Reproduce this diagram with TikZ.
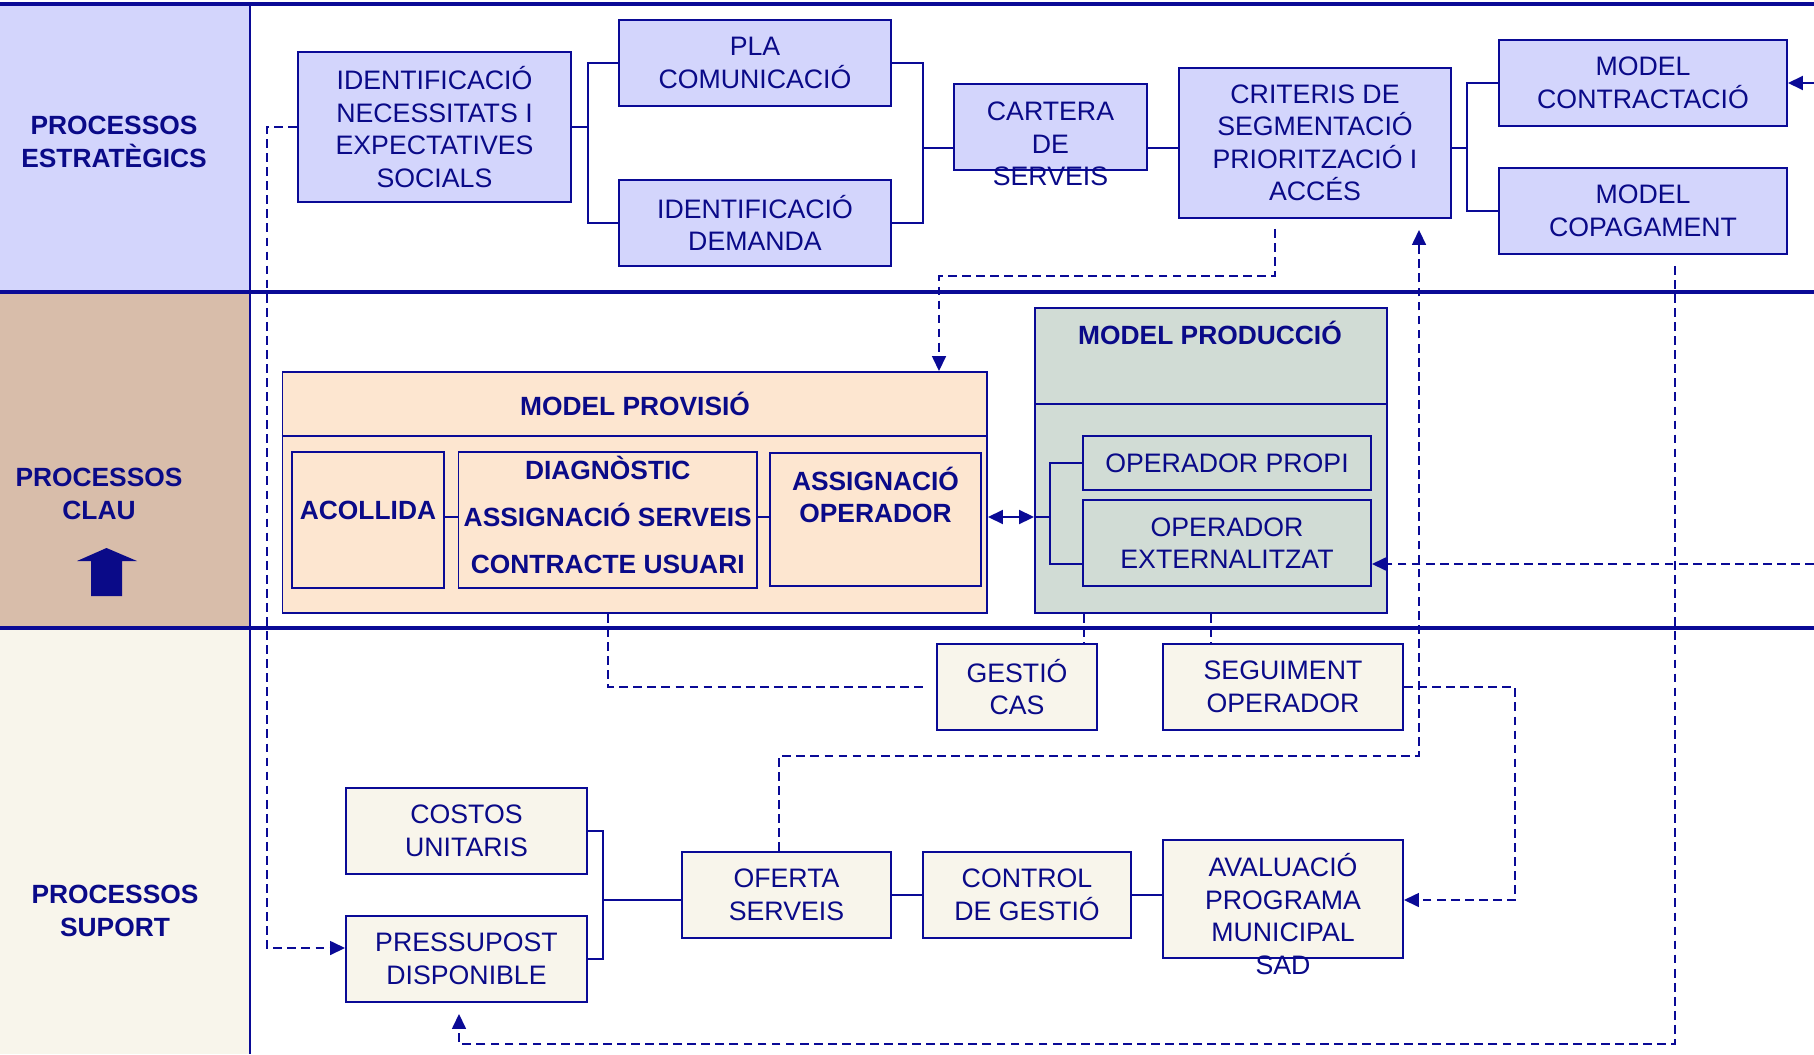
\documentclass[tikz,border=0pt]{standalone}
\usepackage{fontspec}
\setmainfont{Liberation Sans}
\usepackage{xcolor}
\definecolor{navyLine}{HTML}{0A0A96}
\definecolor{navyText}{HTML}{0A0A88}
\definecolor{stratBg}{HTML}{D3D5FC}
\definecolor{clauBg}{HTML}{D8BDAA}
\definecolor{suportBg}{HTML}{F8F5EB}
\definecolor{provBg}{HTML}{FDE6D0}
\definecolor{prodBg}{HTML}{D1DCD5}
\usepackage{tikz}
\usetikzlibrary{positioning,calc,arrows.meta}
\tikzset{%
  procBox/.style={%
    rectangle,
    draw=navyLine,
    line width=1.1pt,
    inner sep=0pt,
    align=center,
    text=navyText,
    font=\fontsize{15.2}{18.5}\selectfont
  },
  stratBox/.style={procBox, fill=stratBg},
  suportBox/.style={procBox, fill=suportBg},
  provBox/.style={procBox, fill=provBg, font=\fontsize{15}{18.5}\selectfont\bfseries},
  prodBox/.style={procBox, fill=prodBg},
  boxSize/.style 2 args={minimum width=#1*0.02cm, minimum height=#2*0.02cm},
  laneLabel/.style={%
    align=center,
    inner sep=0pt,
    text=navyText,
    font=\fontsize{15}{18.5}\selectfont\bfseries
  },
  plainText/.style={align=center, inner sep=0pt, text=navyText, font=\fontsize{15.2}{18.5}\selectfont},
  laneRule/.style={draw=navyLine, line width=2.3pt},
  linkLine/.style={draw=navyLine, line width=1.1pt},
  dashLink/.style={draw=navyLine, line width=0.9pt, dash pattern=on 5pt off 3pt},
  tipEnd/.style={-{Triangle[length=0.3cm,width=0.28cm]}},
  bothTips/.style={{Triangle[length=0.3cm,width=0.28cm]}-{Triangle[length=0.3cm,width=0.28cm]}}
}

\begin{document}
\begin{tikzpicture}[x=0.02cm, y=-0.02cm]
  \useasboundingbox (0,0) rectangle (1814,1054);
  \fill[white] (0,0) rectangle (1814,1054);

  % lanes
  \fill[stratBg] (0,4) rectangle (250,292);
  \fill[clauBg] (0,292) rectangle (250,628);
  \fill[suportBg] (0,628) rectangle (250,1054);
  \draw[linkLine] (250,4) -- (250,1054);
  \foreach \yy in {4,292,628}
    \draw[laneRule] (0,\yy) -- (1814,\yy);

  \node[laneLabel] (estrategics) at (114,142) {PROCESSOS\\ESTRAT\`EGICS};
  \node[laneLabel] (clau) at (99,494) {PROCESSOS\\CLAU};
  \node[laneLabel] (suport) at (115,911) {PROCESSOS\\SUPORT};
  \fill[navyText] (91,596) -- (91,561) -- (77,561) -- (106.5,548) -- (137,561) -- (122,561) -- (122,596) -- cycle;

  % processos estrategics
  \node[stratBox, boxSize={273}{150}] (ident) at (434.5,127) {IDENTIFICACI\'O\\NECESSITATS I\\EXPECTATIVES\\SOCIALS};
  \node[stratBox, boxSize={272}{86}] (pla) at (755,63) {PLA\\COMUNICACI\'O};
  \node[stratBox, boxSize={272}{86}] (demanda) at (755,223) {IDENTIFICACI\'O\\DEMANDA};
  \node[stratBox, boxSize={193}{86}] (cartera) at (1050.5,127) {};
  \node[plainText] (carteraText) at (1050.5,144) {CARTERA\\DE\\SERVEIS};
  \node[stratBox, boxSize={272}{150}] (criteris) at (1315,143) {CRITERIS DE\\SEGMENTACI\'O\\PRIORITZACI\'O I\\ACC\'ES};
  \node[stratBox, boxSize={288}{86}] (contractacio) at (1643,83) {MODEL\\CONTRACTACI\'O};
  \node[stratBox, boxSize={288}{86}] (copagament) at (1643,211) {MODEL\\COPAGAMENT};

  % processos clau
  \node[provBox, boxSize={704.5}{241}] (provisio) at (634.75,492.5) {};
  \draw[linkLine] (provisio.west |- 0,436) -- (provisio.east |- 0,436);
  \node[laneLabel] (provisioTitle) at (635,404) {MODEL PROVISI\'O};
  \node[provBox, boxSize={152.5}{136}] (acollida) at (368,520) {};
  \node[laneLabel] (acollidaText) at (368,510) {ACOLLIDA};
  \node[provBox, boxSize={298.5}{136}] (diagnostic) at (607.75,520) {};
  \node[laneLabel] (diagnosticText) at (607.75,515) {DIAGN\`OSTIC\\[8.2pt]ASSIGNACI\'O SERVEIS\\[8.2pt]CONTRACTE USUARI};
  \node[provBox, boxSize={211}{133}] (assignop) at (875.5,519.5) {};
  \node[laneLabel] (assignopText) at (875.5,495) {ASSIGNACI\'O\\OPERADOR};

  \node[prodBox, boxSize={352}{305}] (produccio) at (1211,460.5) {};
  \draw[linkLine] (produccio.west |- 0,404) -- (produccio.east |- 0,404);
  \node[laneLabel] (produccioTitle) at (1210,333) {MODEL PRODUCCI\'O};
  \node[prodBox, boxSize={288}{54}] (propi) at (1227,463) {OPERADOR PROPI};
  \node[prodBox, boxSize={288}{86}] (externalitzat) at (1227,543) {OPERADOR\\EXTERNALITZAT};

  % processos suport
  \node[suportBox, boxSize={160}{86}] (gestio) at (1017,687) {GESTI\'O\\CAS};
  \node[suportBox, boxSize={240}{86}] (seguiment) at (1283,687) {SEGUIMENT\\OPERADOR};
  \node[suportBox, boxSize={241}{86}] (costos) at (466.5,831) {COSTOS\\UNITARIS};
  \node[suportBox, boxSize={241}{86}] (pressupost) at (466.5,959) {PRESSUPOST\\DISPONIBLE};
  \node[suportBox, boxSize={209}{86}] (oferta) at (786.5,895) {OFERTA\\SERVEIS};
  \node[suportBox, boxSize={208}{86}] (control) at (1027,895) {CONTROL\\DE GESTI\'O};
  \node[suportBox, boxSize={240}{118}] (avaluacio) at (1283,899) {};
  \node[plainText] (avaluacioText) at (1283,914) {AVALUACI\'O\\PROGRAMA\\MUNICIPAL\\SAD};

  % connectors estrategics
  \draw[linkLine] (ident.east) -- ++(16,0) coordinate (identFork);
  \draw[linkLine] (pla.west) -| (identFork) |- (demanda.west);
  \coordinate (carteraFork) at (923,148);
  \draw[linkLine] (pla.east) -| (carteraFork) |- (demanda.east);
  \draw[linkLine] (carteraFork) -- (carteraFork -| cartera.west);
  \draw[linkLine] (cartera.east |- carteraFork) -- (carteraFork -| criteris.west);
  \coordinate (modelFork) at (1467,148);
  \draw[linkLine] (criteris.east |- modelFork) -- (modelFork);
  \draw[linkLine] (contractacio.west) -| (modelFork) |- (copagament.west);
  \coordinate (contractIn) at (1814,83);
  \draw[linkLine, tipEnd] (contractIn) -- (contractacio.east);

  % connectors clau
  \draw[linkLine] (acollida.east |- 0,517) -- (diagnostic.west |- 0,517);
  \draw[linkLine] (diagnostic.east |- 0,517) -- (assignop.west |- 0,517);
  \coordinate (prodFork) at (1050,517);
  \draw[linkLine, bothTips] (provisio.east |- prodFork) -- (produccio.west |- prodFork);
  \draw[linkLine] (produccio.west |- prodFork) -- (prodFork);
  \draw[linkLine] (propi.west) -| (prodFork) |- ([yshift=-0.42cm]externalitzat.west);
  \coordinate (externIn) at (1814,564);
  \draw[dashLink, tipEnd] (externIn) -- (externIn -| externalitzat.east);

  % connectors suport
  \coordinate (ofertaFork) at (603,900);
  \draw[linkLine] (costos.east) -| (ofertaFork) |- (pressupost.east);
  \draw[linkLine] (ofertaFork) -- (ofertaFork -| oferta.west);
  \draw[linkLine] (oferta.east) -- (control.west);
  \draw[linkLine] (control.east) -- (avaluacio.west |- control.east);

  % dashed loops
  \draw[dashLink, tipEnd, shorten <=0.2cm] (criteris.south -| 1275,0) |- (939,276) -- (provisio.north -| 939,0);
  \draw[dashLink, tipEnd, shorten >=0.22cm] (oferta.north -| 779,0) |- (1419,756) -- (criteris.south -| 1419,0);
  \draw[dashLink, tipEnd, shorten <=0.22cm, shorten >=0.22cm] (copagament.south -| 1675,0) |- (459,1044) -- (pressupost.south -| 459,0);
  \coordinate (identDrop) at (267,948);
  \draw[dashLink, tipEnd] (ident.west) -| (identDrop) -- (identDrop -| pressupost.west);
  \draw[dashLink, shorten >=0.24cm] (provisio.south -| 608,0) |- (gestio.west);
  \draw[dashLink] (produccio.south -| 1084,0) -- (gestio.north -| 1084,0);
  \draw[dashLink] (produccio.south -| 1211,0) -- (seguiment.north -| 1211,0);
  \coordinate (evalFork) at (1515,900);
  \draw[dashLink, tipEnd] (seguiment.east) -| (evalFork) -- (avaluacio.east |- evalFork);
\end{tikzpicture}
\end{document}
